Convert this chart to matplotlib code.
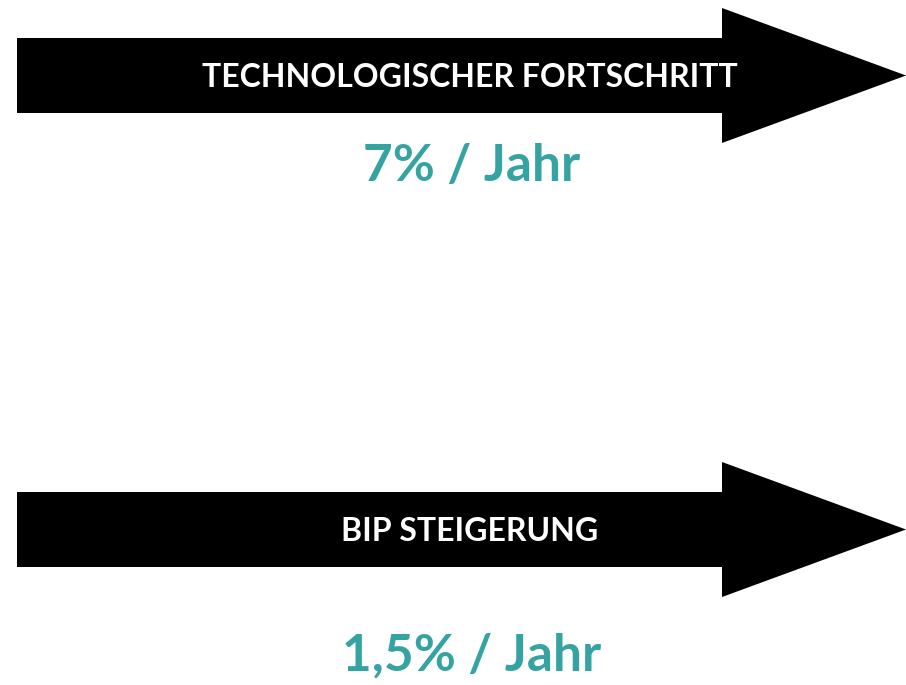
import matplotlib.pyplot as plt
from matplotlib.patches import Polygon

# two growth arrows with a label inside and a rate below
labels = ["TECHNOLOGISCHER FORTSCHRITT", "BIP STEIGERUNG"]
rates = ["7% / Jahr", "1,5% / Jahr"]
arrow_mid_y = [75.5, 529.5]
rate_y = [166, 656]

teal = "#36a3a3"

fig = plt.figure(figsize=(9.06, 6.85), dpi=100, facecolor="w")
ax = fig.add_axes([0, 0, 1, 1])
ax.set_xlim(0, 906)
ax.set_ylim(685, 0)
ax.axis("off")

body_half = 37.5
head_half = 67.5
x0, x_head, x_tip = 17, 722, 906

for label, rate, yc, ry in zip(labels, rates, arrow_mid_y, rate_y):
    pts = [
        (x0, yc - body_half),
        (x_head, yc - body_half),
        (x_head, yc - head_half),
        (x_tip, yc),
        (x_head, yc + head_half),
        (x_head, yc + body_half),
        (x0, yc + body_half),
    ]
    ax.add_patch(Polygon(pts, closed=True, facecolor="black", edgecolor="none"))
    ax.text(470, yc + 2, label, color="white", fontsize=23, fontweight="bold",
            family="Lato", ha="center", va="center")
    ax.text(472, ry, rate, color=teal, fontsize=37, fontweight="bold",
            family="Lato", ha="center", va="center")

plt.savefig("out.png", facecolor="w", dpi=100)
